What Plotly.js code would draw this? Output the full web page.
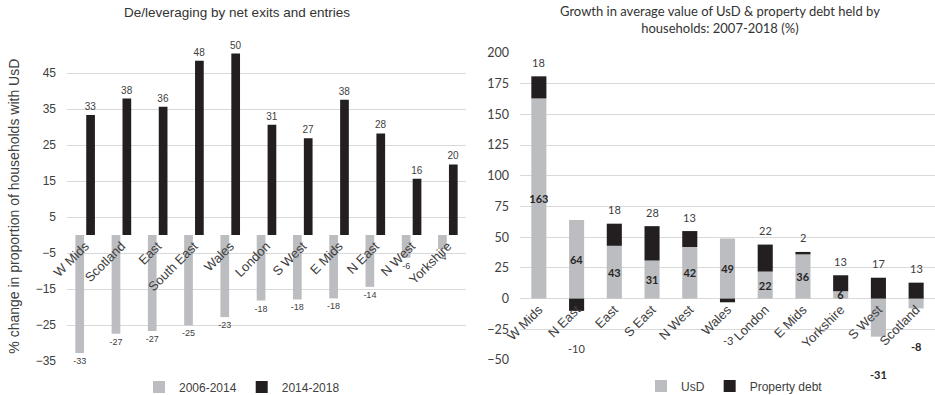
<!DOCTYPE html>
<html><head><meta charset="utf-8">
<script src="https://cdn.plot.ly/plotly-3.0.1.min.js"></script>
<style>html,body{margin:0;padding:0;background:#fff;overflow:hidden}#chart{width:935px;height:403px}</style>
</head><body><div id="chart"></div>
<script>
// ---- data ----
const leftCategories = ['W Mids','Scotland','East','South East','Wales','London','S West','E Mids','N East','N West','Yorkshire'];
const change2006_2014 = [-32.8,-27.4,-26.7,-25.1,-22.8,-18.2,-17.9,-17.6,-14.4,-6.3,-3.9];
const change2014_2018 = [33.3,37.9,35.6,48.4,50.4,30.6,26.9,37.6,28.2,15.6,19.6];
const leftTicks = [-35,-25,-15,-5,5,15,25,35,45];

const rightCategories = ['W Mids','N East','East','S East','N West','Wales','London','E Mids','Yorkshire','S West','Scotland'];
const usdGrowth = [163,64,43,31,42,49,22,36,6,-31,-8];
const propertyDebtGrowth = [18,-10,18,28,13,-3,22,2,13,17,13];
const rightTicks = [-50,-25,0,25,50,75,100,125,150,175,200];

// ---- layout helpers ----
// the figure is a few px taller than the 395px window so the bottom legends
// can sit right at the visible edge without pushing the plot margins.
const W = 935, H = 403;
const GREY = '#bcbdc0', BLACK = '#231f20', TXT = '#404040';
const ARIAL = 'Liberation Sans, Arial, sans-serif';
const CAL = 'Lato, Open Sans, sans-serif';
const py = px => 1 - px / H;   // pixel-from-top -> paper fraction

const leftRange = [-35, 51];
const rightRange = [-50, 200];
const leftYDom = [py(361), py(51.4)];
const rightYDom = [py(360), py(53)];
function zeroPos(dom, rng) { return dom[0] + (0 - rng[0]) / (rng[1] - rng[0]) * (dom[1] - dom[0]); }

// UsD labels sit inside the bar when positive; negative ones go below as annotations
const usdPos = usdGrowth.map(v => (v >= 0 ? 'inside' : 'none'));

// end of each stack (relative mode) where a label is attached
function stackEnd(own, other, i) {
  const v = own[i], o = other[i];
  if (v >= 0) return v + (o >= 0 && own === propertyDebtGrowth ? o : 0);
  return v + (o < 0 && own === propertyDebtGrowth ? o : 0);
}
const labelFontReg = { family: CAL, size: 11, color: TXT };
const labelFontBold = { family: CAL, size: 11, color: '#262626', weight: 'bold' };
const annotations = [];
rightCategories.forEach((c, i) => {
  const p = propertyDebtGrowth[i];
  annotations.push({ xref: 'x2', yref: 'y2', x: c, y: stackEnd(propertyDebtGrowth, usdGrowth, i),
    text: String(p), showarrow: false, yanchor: 'middle', yshift: p >= 0 ? 14 : -38, font: labelFontReg });
  const u = usdGrowth[i];
  if (u < 0) {
    annotations.push({ xref: 'x2', yref: 'y2', x: c, y: u, text: String(u), showarrow: false,
      yanchor: 'middle', yshift: -38, font: labelFontBold });
  }
});
annotations.push({ text: 'Growth in average value of UsD &amp; property debt held by<br>households: 2007-2018 (%)',
  xref: 'paper', yref: 'paper', x: 720 / W, y: py(19), xanchor: 'center', yanchor: 'middle',
  showarrow: false, font: { family: CAL, size: 13, color: '#333' } });

const traces = [
  { type: 'bar', name: '2006-2014', x: leftCategories, y: change2006_2014,
    xaxis: 'x', yaxis: 'y', legend: 'legend',
    marker: { color: GREY }, width: 0.24, offset: -0.27,
    texttemplate: '%{y:.0f}', textposition: 'outside', cliponaxis: false, constraintext: 'none',
    textfont: { family: ARIAL, size: 9, color: TXT },
    outsidetextfont: { family: ARIAL, size: 9, color: TXT } },
  { type: 'bar', name: '2014-2018', x: leftCategories, y: change2014_2018,
    xaxis: 'x', yaxis: 'y', legend: 'legend',
    marker: { color: BLACK }, width: 0.24, offset: 0.03,
    texttemplate: '%{y:.0f}', textposition: 'outside', cliponaxis: false, constraintext: 'none',
    textfont: { family: ARIAL, size: 10, color: TXT },
    outsidetextfont: { family: ARIAL, size: 10, color: TXT } },
  { type: 'bar', name: 'UsD', x: rightCategories, y: usdGrowth,
    xaxis: 'x2', yaxis: 'y2', legend: 'legend2',
    marker: { color: GREY }, width: 0.4,
    text: usdGrowth.map(String), textposition: usdPos, insidetextanchor: 'middle',
    textangle: 0, constraintext: 'none', cliponaxis: false,
    textfont: labelFontBold, insidetextfont: labelFontBold },
  { type: 'bar', name: 'Property debt', x: rightCategories, y: propertyDebtGrowth,
    xaxis: 'x2', yaxis: 'y2', legend: 'legend2',
    marker: { color: BLACK }, width: 0.4, textposition: 'none' }
];

const layout = {
  width: W, height: H,
  margin: { l: 0, r: 0, t: 0, b: 0 },
  paper_bgcolor: '#fff', plot_bgcolor: 'rgba(0,0,0,0)',
  barmode: 'relative',
  font: { family: ARIAL, color: TXT },
  title: { text: 'De/leveraging by net exits and entries', x: 237 / W, xanchor: 'center',
           y: py(12), yanchor: 'middle', font: { family: ARIAL, size: 13.5, color: '#333' } },
  xaxis: { domain: [67 / W, 466 / W], anchor: 'free', position: zeroPos(leftYDom, leftRange),
           type: 'category', tickangle: -45, showgrid: false, showline: false, zeroline: false,
           ticks: '', tickfont: { family: ARIAL, size: 13, color: TXT } },
  yaxis: { domain: leftYDom, range: leftRange, anchor: 'x', tickvals: leftTicks,
           showgrid: true, gridcolor: '#d9d9d9', gridwidth: 1, zeroline: false, showline: false,
           ticks: '', ticklabelstandoff: 10, tickfont: { family: ARIAL, size: 12, color: TXT },
           title: { text: '% change in proportion of households with UsD', standoff: 12,
                    font: { family: ARIAL, size: 14, color: TXT } } },
  xaxis2: { domain: [520 / W, 1], anchor: 'free', position: zeroPos(rightYDom, rightRange),
            type: 'category', tickangle: -45, showgrid: false, showline: false, zeroline: false,
            ticks: '', tickfont: { family: ARIAL, size: 13, color: TXT } },
  yaxis2: { domain: rightYDom, range: rightRange, anchor: 'x2', tickvals: rightTicks,
            showgrid: true, gridcolor: '#d9d9d9', gridwidth: 1, zeroline: false, showline: false,
            ticks: '', ticklabelstandoff: 10, tickfont: { family: CAL, size: 12.5, color: TXT } },
  legend: { orientation: 'h', x: 139 / W, xanchor: 'left', y: py(387), yanchor: 'middle',
            font: { family: ARIAL, size: 12, color: TXT }, bgcolor: 'rgba(0,0,0,0)' },
  legend2: { orientation: 'h', x: 641 / W, xanchor: 'left', y: py(386), yanchor: 'middle',
             font: { family: ARIAL, size: 12, color: TXT }, bgcolor: 'rgba(0,0,0,0)' },
  annotations: annotations
};

Plotly.newPlot('chart', traces, layout, { displayModeBar: false, staticPlot: true });
</script>
</body></html>
